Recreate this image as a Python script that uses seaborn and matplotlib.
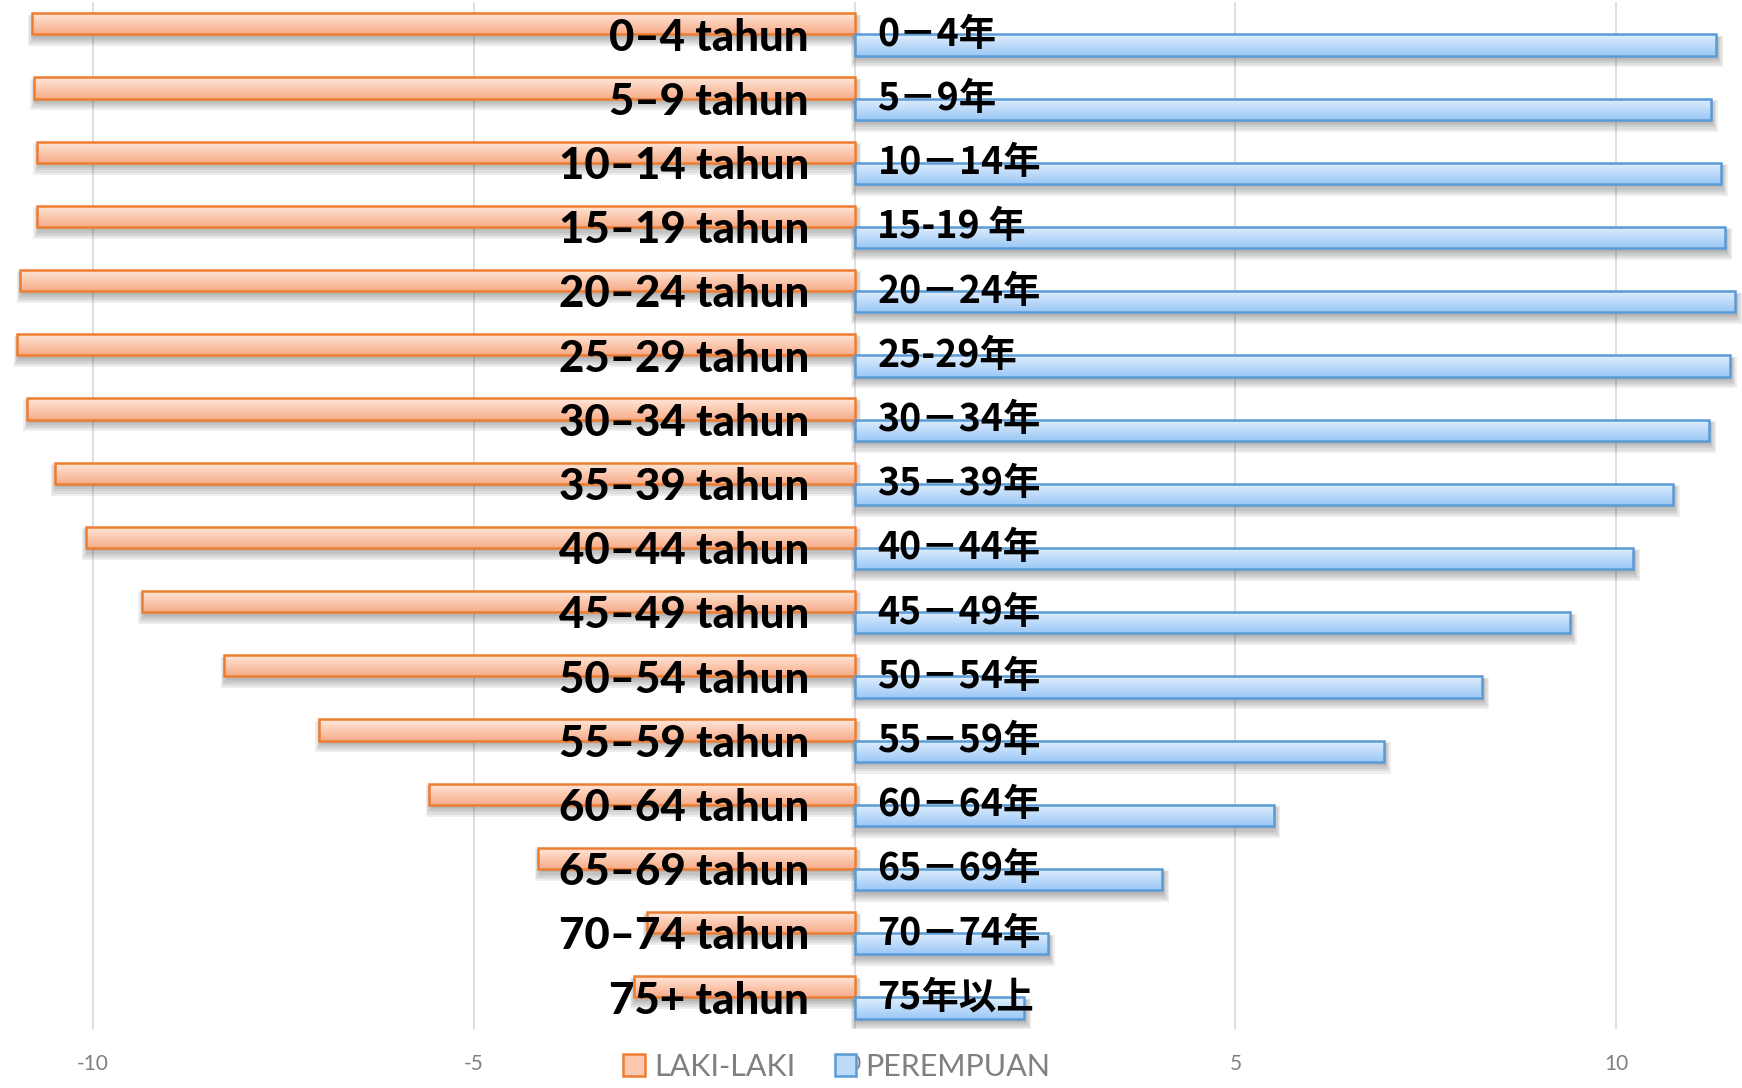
import numpy as np
import pandas as pd
import seaborn as sns
import matplotlib.pyplot as plt
from matplotlib.patches import Rectangle, Patch
from matplotlib.colors import LinearSegmentedColormap

# Population share by age group (percent), left = male, right = female
ages_id = ["0–4 tahun", "5–9 tahun", "10–14 tahun", "15–19 tahun", "20–24 tahun",
           "25–29 tahun", "30–34 tahun", "35–39 tahun", "40–44 tahun", "45–49 tahun",
           "50–54 tahun", "55–59 tahun", "60–64 tahun", "65–69 tahun", "70–74 tahun",
           "75+ tahun"]
ages_jp = ["0－4年", "5－9年", "10－14年", "15-19 年", "20－24年", "25-29年", "30－34年",
           "35－39年", "40－44年", "45－49年", "50－54年", "55－59年", "60－64年",
           "65－69年", "70－74年", "75年以上"]
male = [10.80, 10.77, 10.73, 10.73, 10.95, 10.99, 10.86, 10.50, 10.09, 9.35,
        8.27, 7.03, 5.58, 4.15, 2.73, 2.90]
female = [11.31, 11.24, 11.37, 11.43, 11.56, 11.49, 11.22, 10.74, 10.22, 9.39,
          8.24, 6.95, 5.50, 4.04, 2.54, 2.23]
sexes = ["LAKI-LAKI", "PEREMPUAN"]
x_ticks = [-10, -5, 0, 5, 10]
x_ticklabels = ["-10", "-5", "0", "5", "10"]

df = pd.DataFrame({
    "age": ages_id * 2,
    "sex": [sexes[0]] * len(ages_id) + [sexes[1]] * len(ages_id),
    "value": [-v for v in male] + female,
})

sns.set_theme(style="white")
plt.rcParams["font.family"] = ["Lato", "DejaVu Sans"]

styles = {
    sexes[0]: dict(edge="#ED7D31", top="#FFE8DC", bottom="#F7AD89", base="#FBC9AF"),
    sexes[1]: dict(edge="#5B9BD5", top="#E2EFFE", bottom="#9BC8F6", base="#BCDAFA"),
}

fig = plt.figure(figsize=(17.42, 10.88), dpi=100)
ax = fig.add_axes([0, 0.0538, 1, 0.9441])

sns.barplot(data=df, x="value", y="age", hue="sex", order=ages_id, hue_order=sexes,
            palette={s: styles[s]["base"] for s in sexes}, orient="h", width=0.66,
            saturation=1, errorbar=None, legend=False, ax=ax)

xlim = (-11.216, 11.648)
ylim = (15.5, -0.5)
px_x = (xlim[1] - xlim[0]) / 1742.0
px_y = 16.0 / (0.9441 * 1088)

bars = list(ax.patches)
for bar in bars:
    bb = bar.get_bbox()
    x0, x1 = min(bb.x0, bb.x1), max(bb.x0, bb.x1)
    y0, y1 = min(bb.y0, bb.y1), max(bb.y0, bb.y1)
    st = styles[sexes[0]] if (x0 + x1) < 0 else styles[sexes[1]]

    # soft drop shadow under each bar
    for k in range(5):
        grow = k * 1.3
        ax.add_patch(Rectangle((x0 + (1.5 - grow) * px_x, y0 + (3.5 - grow * 0.4) * px_y),
                               (x1 - x0) + 2 * grow * px_x,
                               (y1 - y0) + 2 * grow * px_y,
                               facecolor="#444444", edgecolor="none", alpha=0.09,
                               zorder=2))

    # vertical gradient fill clipped to the bar
    cmap = LinearSegmentedColormap.from_list("g", [st["top"], st["bottom"]])
    grad = np.linspace(0, 1, 64).reshape(-1, 1)
    im = ax.imshow(grad, cmap=cmap, extent=[x0, x1, y1, y0], origin="upper",
                   aspect="auto", interpolation="bilinear", zorder=2.6)
    im.set_clip_path(bar)

    bar.set_facecolor("none")
    bar.set_edgecolor(st["edge"])
    bar.set_linewidth(1.8)
    bar.set_zorder(3)

ax.set_xlim(*xlim)
ax.set_ylim(*ylim)

ax.set_xticks(x_ticks)
ax.set_xticklabels(x_ticklabels)
ax.xaxis.grid(True, color="#D9D9D9", linewidth=1.2)
ax.set_axisbelow(True)
ax.tick_params(axis="x", length=0, pad=18, labelsize=15, labelcolor="#808080")
ax.tick_params(axis="y", left=False, labelleft=False)
ax.set_xlabel("")
ax.set_ylabel("")
for sp in ax.spines.values():
    sp.set_visible(False)

for i, (lab_id, lab_jp) in enumerate(zip(ages_id, ages_jp)):
    ax.text(-0.60, i + 0.05, lab_id, ha="right", va="center", fontsize=31.5,
            fontweight="black", color="black", family=["Lato", "DejaVu Sans"], zorder=6)
    ax.text(0.30, i, lab_jp, ha="left", va="center", fontsize=27,
            fontweight="bold", color="black",
            family=["Noto Sans CJK JP", "DejaVu Sans"], zorder=6)

handles = [Patch(facecolor=styles[s]["base"], edgecolor=styles[s]["edge"], linewidth=1.8)
           for s in sexes]
fig.legend(handles, sexes, loc="center", bbox_to_anchor=(0.4805, 0.0196), ncol=2,
           frameon=False, fontsize=22, labelcolor="#808080", handlelength=0.7,
           handleheight=0.7, handletextpad=0.3, columnspacing=1.3)

fig.savefig("out.png", dpi=100)
